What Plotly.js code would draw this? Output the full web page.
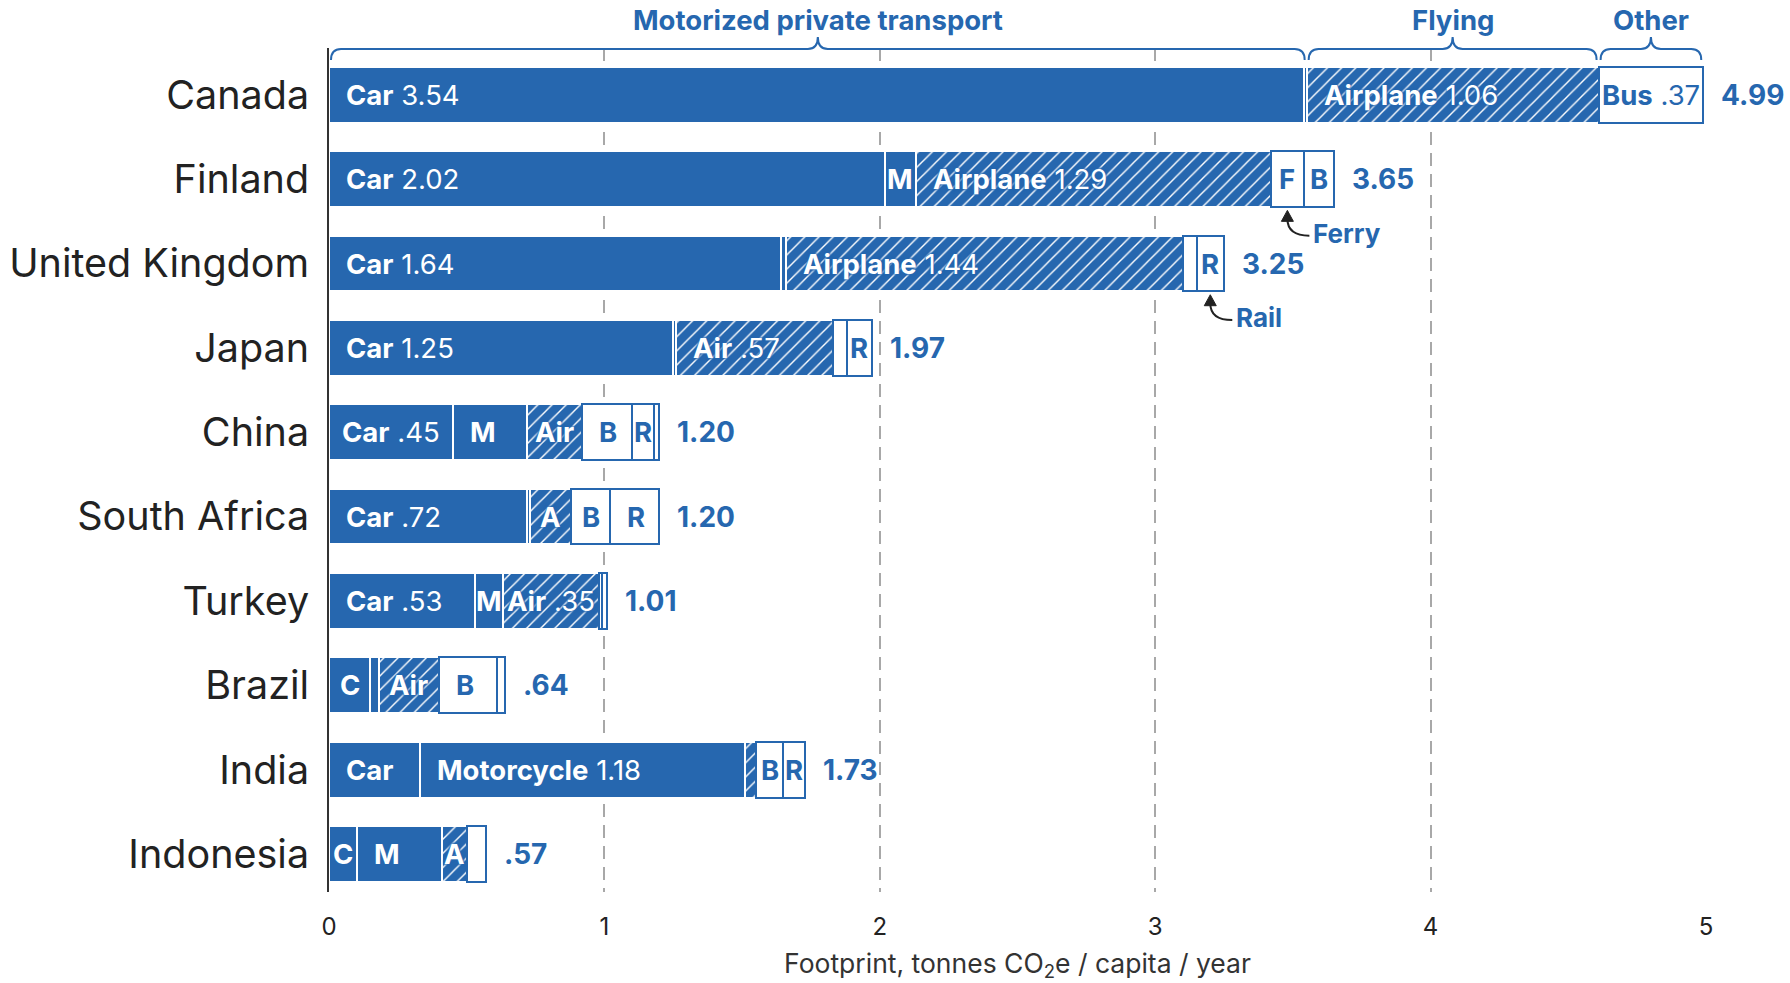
<!DOCTYPE html>
<html>
<head>
<meta charset="utf-8">
<script src="https://cdn.plot.ly/plotly-3.0.1.min.js"></script>
<style>
  html, body { margin: 0; padding: 0; background: #fff; }
  #chart { width: 1790px; height: 983px; }
</style>
</head>
<body>
<div id="chart"></div>
<script>
// ---------------- DATA ----------------
const countries = ["Canada", "Finland", "United Kingdom", "Japan", "China",
                   "South Africa", "Turkey", "Brazil", "India", "Indonesia"];

const car        = [3.54, 2.02, 1.64, 1.25, 0.45, 0.72, 0.53, 0.15, 0.33, 0.10];
const motorcycle = [0.01, 0.11, 0.02, 0.01, 0.27, 0.01, 0.10, 0.03, 1.18, 0.31];
const airplane   = [1.06, 1.29, 1.44, 0.57, 0.20, 0.15, 0.35, 0.22, 0.04, 0.09];
const ferry      = [0,    0.12, 0,    0,    0,    0,    0,    0,    0,    0   ];
const bus        = [0.38, 0.11, 0.05, 0.05, 0.18, 0.14, 0.01, 0.21, 0.10, 0.07];
const rail       = [0,    0,    0.10, 0.09, 0.08, 0.18, 0.02, 0.03, 0.08, 0   ];
const other      = [0,    0,    0,    0,    0.02, 0,    0,    0,    0,    0   ];

const carLabels   = ["Car 3.54", "Car 2.02", "Car 1.64", "Car 1.25", "Car .45", "Car .72", "Car .53", "C", "Car", "C"];
const motoLabels  = ["", "M", "", "", "M", "", "M", "", "Motorcycle 1.18", "M"];
const airLabels   = ["Airplane 1.06", "Airplane 1.29", "Airplane 1.44", "Air .57", "Air", "A", "Air .35", "Air", "", "A"];
const ferryLabels = ["", "F", "", "", "", "", "", "", "", ""];
const busLabels   = ["Bus .37", "B", "", "", "B", "B", "", "B", "B", ""];
const railLabels  = ["", "", "R", "R", "R", "R", "", "", "R", ""];
const otherLabels = ["", "", "", "", "", "", "", "", "", ""];

const groupNames = ["Motorized private transport", "Flying", "Other"];
const calloutNames = ["Ferry", "Rail"];
const calloutCountries = ["Finland", "United Kingdom"];
const calloutSeries = ["Ferry", "Rail"];

const xTicks = [0, 1, 2, 3, 4, 5];

// ---------------- STYLE ----------------
const BLUE = '#2667AF';
const FONT = 'Inter, "Noto Sans", Roboto, sans-serif';
const W = 1790, H = 983;
const M = {l: 329, r: 84, t: 48, b: 91};
const PW = W - M.l - M.r, PH = H - M.t - M.b;
const XMAX = 5;
const PXU = PW / XMAX;               // px per data unit on x
const SEG_FONT = 27.5;
const HALO = '0px 0px 2px ' + BLUE + ', 0px 0px 3px ' + BLUE + ', 0px 0px 4px ' + BLUE;

const series = [
  {name: 'Car',        v: car,        lab: carLabels,   kind: 'solid'},
  {name: 'Motorcycle', v: motorcycle, lab: motoLabels,  kind: 'solid'},
  {name: 'Airplane',   v: airplane,   lab: airLabels,   kind: 'hatch'},
  {name: 'Ferry',      v: ferry,      lab: ferryLabels, kind: 'box'},
  {name: 'Bus',        v: bus,        lab: busLabels,   kind: 'box'},
  {name: 'Rail',       v: rail,       lab: railLabels,  kind: 'box'},
  {name: 'Other',      v: other,      lab: otherLabels, kind: 'box'}
];

const yIdx = countries.map((_, i) => i);

const traces = series.map(s => {
  const t = {
    type: 'bar', orientation: 'h', name: s.name,
    y: yIdx, x: s.v.map(v => v > 0 ? v : null),
    width: 0.66, hovertemplate: s.name + ': %{x}<extra></extra>'
  };
  if (s.kind === 'solid') {
    t.marker = {color: BLUE, line: {color: '#ffffff', width: 2}};
  } else if (s.kind === 'hatch') {
    t.marker = {color: BLUE, line: {color: '#ffffff', width: 2},
                pattern: {shape: '/', bgcolor: BLUE, fgcolor: '#ffffff', fgopacity: 1,
                          size: 10, solidity: 0.14, fillmode: 'replace'}};
  } else {
    t.marker = {color: '#ffffff', line: {color: BLUE, width: 2}};
  }
  return t;
});

// ---------------- ANNOTATIONS ----------------
const annotations = [];
const starts = {};
series.forEach(s => starts[s.name] = []);

countries.forEach((c, i) => {
  let start = 0;
  series.forEach(s => {
    const v = s.v[i];
    starts[s.name][i] = start;
    const lab = s.lab[i];
    if (lab) {
      const parts = lab.split(' ');
      const txt = parts.length > 1
        ? '<b>' + parts[0] + '</b> ' + parts.slice(1).join(' ')
        : '<b>' + lab + '</b>';
      const font = {family: FONT, size: SEG_FONT, color: s.kind === 'box' ? BLUE : '#ffffff'};
      if (s.kind === 'hatch') font.shadow = HALO;
      const estW = lab.length * SEG_FONT * 0.58;
      const segW = v * PXU;
      const base = {y: i, xref: 'x', yref: 'y', yanchor: 'middle', showarrow: false,
                    text: txt, font: font};
      if (segW > estW + 32) {
        annotations.push(Object.assign({x: start, xanchor: 'left', xshift: 15}, base));
      } else {
        annotations.push(Object.assign({x: start + v / 2, xanchor: 'center', xshift: 0}, base));
      }
    }
    start += v;
  });
  const tot = Math.round(start * 100) / 100;
  let totTxt = tot.toFixed(2);
  if (tot < 1) totTxt = totTxt.replace(/^0/, '');
  annotations.push({x: start, y: i, xref: 'x', yref: 'y', xanchor: 'left', yanchor: 'middle',
                    xshift: 16, showarrow: false, text: '<b>' + totTxt + '</b>',
                    font: {family: FONT, size: 28, color: BLUE}});
});

// ---------------- BRACES (based on the first country's segments) ----------------
const p = px => 1 - (px - M.t) / PH;
const yLine = p(49), yEnd = p(60), yPeak = p(37), yText = p(20);
const rx = 10 / PXU;
const inset = 2 / PXU;
const c0 = 0;
const motorEnd = car[c0] + motorcycle[c0];
const flyEnd = motorEnd + airplane[c0];
const totEnd = flyEnd + ferry[c0] + bus[c0] + rail[c0] + other[c0];
const groupSpans = [[0, motorEnd], [motorEnd, flyEnd], [flyEnd, totEnd]];

const shapes = [];
groupSpans.forEach((sp, g) => {
  const x0 = sp[0] + inset, x1 = sp[1] - inset, xm = (sp[0] + sp[1]) / 2;
  const path = `M ${x0},${yEnd} Q ${x0},${yLine} ${x0 + rx},${yLine} L ${xm - rx},${yLine} ` +
               `Q ${xm},${yLine} ${xm},${yPeak} Q ${xm},${yLine} ${xm + rx},${yLine} ` +
               `L ${x1 - rx},${yLine} Q ${x1},${yLine} ${x1},${yEnd}`;
  shapes.push({type: 'path', xref: 'x', yref: 'paper', path: path,
               line: {color: BLUE, width: 2}, layer: 'above'});
  annotations.push({x: xm, y: yText, xref: 'x', yref: 'paper', xanchor: 'center', yanchor: 'middle',
                    showarrow: false, text: '<b>' + groupNames[g] + '</b>',
                    font: {family: FONT, size: 27.5, color: BLUE}});
});

// ---------------- CALLOUTS (Ferry, Rail) ----------------
calloutNames.forEach((nm, k) => {
  const i = countries.indexOf(calloutCountries[k]);
  const sName = calloutSeries[k];
  const s = series.find(q => q.name === sName);
  const cx = starts[sName][i] + s.v[i] / 2;
  const hw = 6 / PXU;
  shapes.push({type: 'path', xref: 'x', yref: 'y',
               path: `M ${cx},${i + 0.47} Q ${cx},${i + 0.67} ${cx + 22 / PXU},${i + 0.67}`,
               line: {color: '#222222', width: 2}});
  shapes.push({type: 'path', xref: 'x', yref: 'y',
               path: `M ${cx},${i + 0.37} L ${cx - hw},${i + 0.50} L ${cx + hw},${i + 0.50} Z`,
               fillcolor: '#222222', line: {color: '#222222', width: 1}});
  annotations.push({x: cx + 24 / PXU, y: i + 0.64, xref: 'x', yref: 'y', xanchor: 'left',
                    yanchor: 'middle', showarrow: false, text: '<b>' + nm + '</b>',
                    font: {family: FONT, size: 26, color: BLUE}});
});

// ---------------- LAYOUT ----------------
const layout = {
  width: W, height: H,
  margin: M,
  paper_bgcolor: '#ffffff', plot_bgcolor: '#ffffff',
  barmode: 'stack',
  showlegend: false,
  font: {family: FONT, color: '#222222'},
  xaxis: {
    range: [0, XMAX], tickvals: xTicks, ticktext: xTicks.map(String),
    showgrid: true, gridcolor: '#a8a8a8', gridwidth: 1.5, griddash: '13px,8px',
    zeroline: false, showline: false,
    ticks: 'outside', ticklen: 13, tickcolor: 'rgba(0,0,0,0)',
    tickfont: {family: FONT, size: 24, color: '#222222'},
    title: {text: 'Footprint, tonnes CO<sub>2</sub>e / capita / year', standoff: 14,
            font: {family: FONT, size: 26.5, color: '#333333'}},
    fixedrange: true
  },
  yaxis: {
    range: [9.45, -0.555], tickvals: yIdx, ticktext: countries,
    showgrid: false, zeroline: false,
    showline: true, linecolor: '#333333', linewidth: 2,
    ticks: 'outside', ticklen: 10, tickcolor: 'rgba(0,0,0,0)',
    tickfont: {family: FONT, size: 39.5, color: '#222222'},
    fixedrange: true
  },
  annotations: annotations,
  shapes: shapes
};

Plotly.newPlot('chart', traces, layout, {displayModeBar: false});
</script>
</body>
</html>
